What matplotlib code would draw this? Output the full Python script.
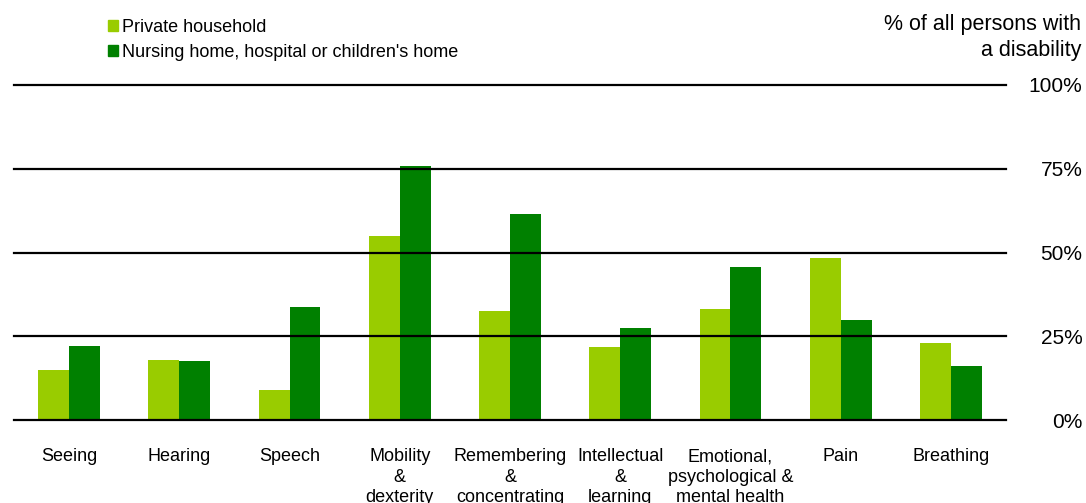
import matplotlib
matplotlib.use("Agg")
import matplotlib.pyplot as plt
from matplotlib.patches import Patch
import numpy as np

plt.rcParams['font.family'] = ['Liberation Sans', 'DejaVu Sans']

categories = ['Seeing', 'Hearing', 'Speech', 'Mobility\n&\ndexterity',
              'Remembering\n&\nconcentrating', 'Intellectual\n&\nlearning',
              'Emotional,\npsychological &\nmental health', 'Pain', 'Breathing']
private = [15, 18, 9, 55, 32.5, 21.7, 33, 48.5, 23]
institution = [22, 17.5, 33.7, 75.8, 61.6, 27.6, 45.7, 30, 16]
yticks = [0, 25, 50, 75, 100]
ytick_labels = ['0%', '25%', '50%', '75%', '100%']

light = '#99cc00'
dark = '#008000'

fig = plt.figure(figsize=(10.86, 5.03), dpi=100)
ax = fig.add_axes([14/1086, 1-420/503, 992/1086, 335/503])

x = np.arange(len(categories))
w = 0.28
ax.bar(x - w/2, private, w, color=light, zorder=1)
ax.bar(x + w/2, institution, w, color=dark, zorder=1)

for y in yticks:
    ax.axhline(y, color='black', lw=1.6, zorder=2, clip_on=False)

ax.set_xlim(-0.5, len(categories) - 0.5)
ax.set_ylim(0, 100)
for s in ax.spines.values():
    s.set_visible(False)

ax.set_xticks(x)
ax.set_xticklabels(categories, fontsize=13, linespacing=1.25)
ax.tick_params(axis='x', length=0, pad=20.5)

ax.yaxis.tick_right()
ax.set_yticks(yticks)
ax.set_yticklabels(ytick_labels, fontsize=15)
ax.tick_params(axis='y', length=0, pad=55)
for lab in ax.get_yticklabels():
    lab.set_horizontalalignment('right')

handles = [Patch(color=light, label='Private household'),
           Patch(color=dark, label="Nursing home, hospital or children's home")]
fig.legend(handles=handles, loc='upper left', bbox_to_anchor=(108/1086, 1-19/503),
           frameon=False, fontsize=13, handlelength=0.55, handleheight=0.55,
           handletextpad=0.2, labelspacing=0.45, borderpad=0, borderaxespad=0)

fig.text(1081/1086, 1-14/503, '% of all persons with\na disability', ha='right',
         va='top', fontsize=15.5, linespacing=1.3)

fig.savefig('out.png', dpi=100)
